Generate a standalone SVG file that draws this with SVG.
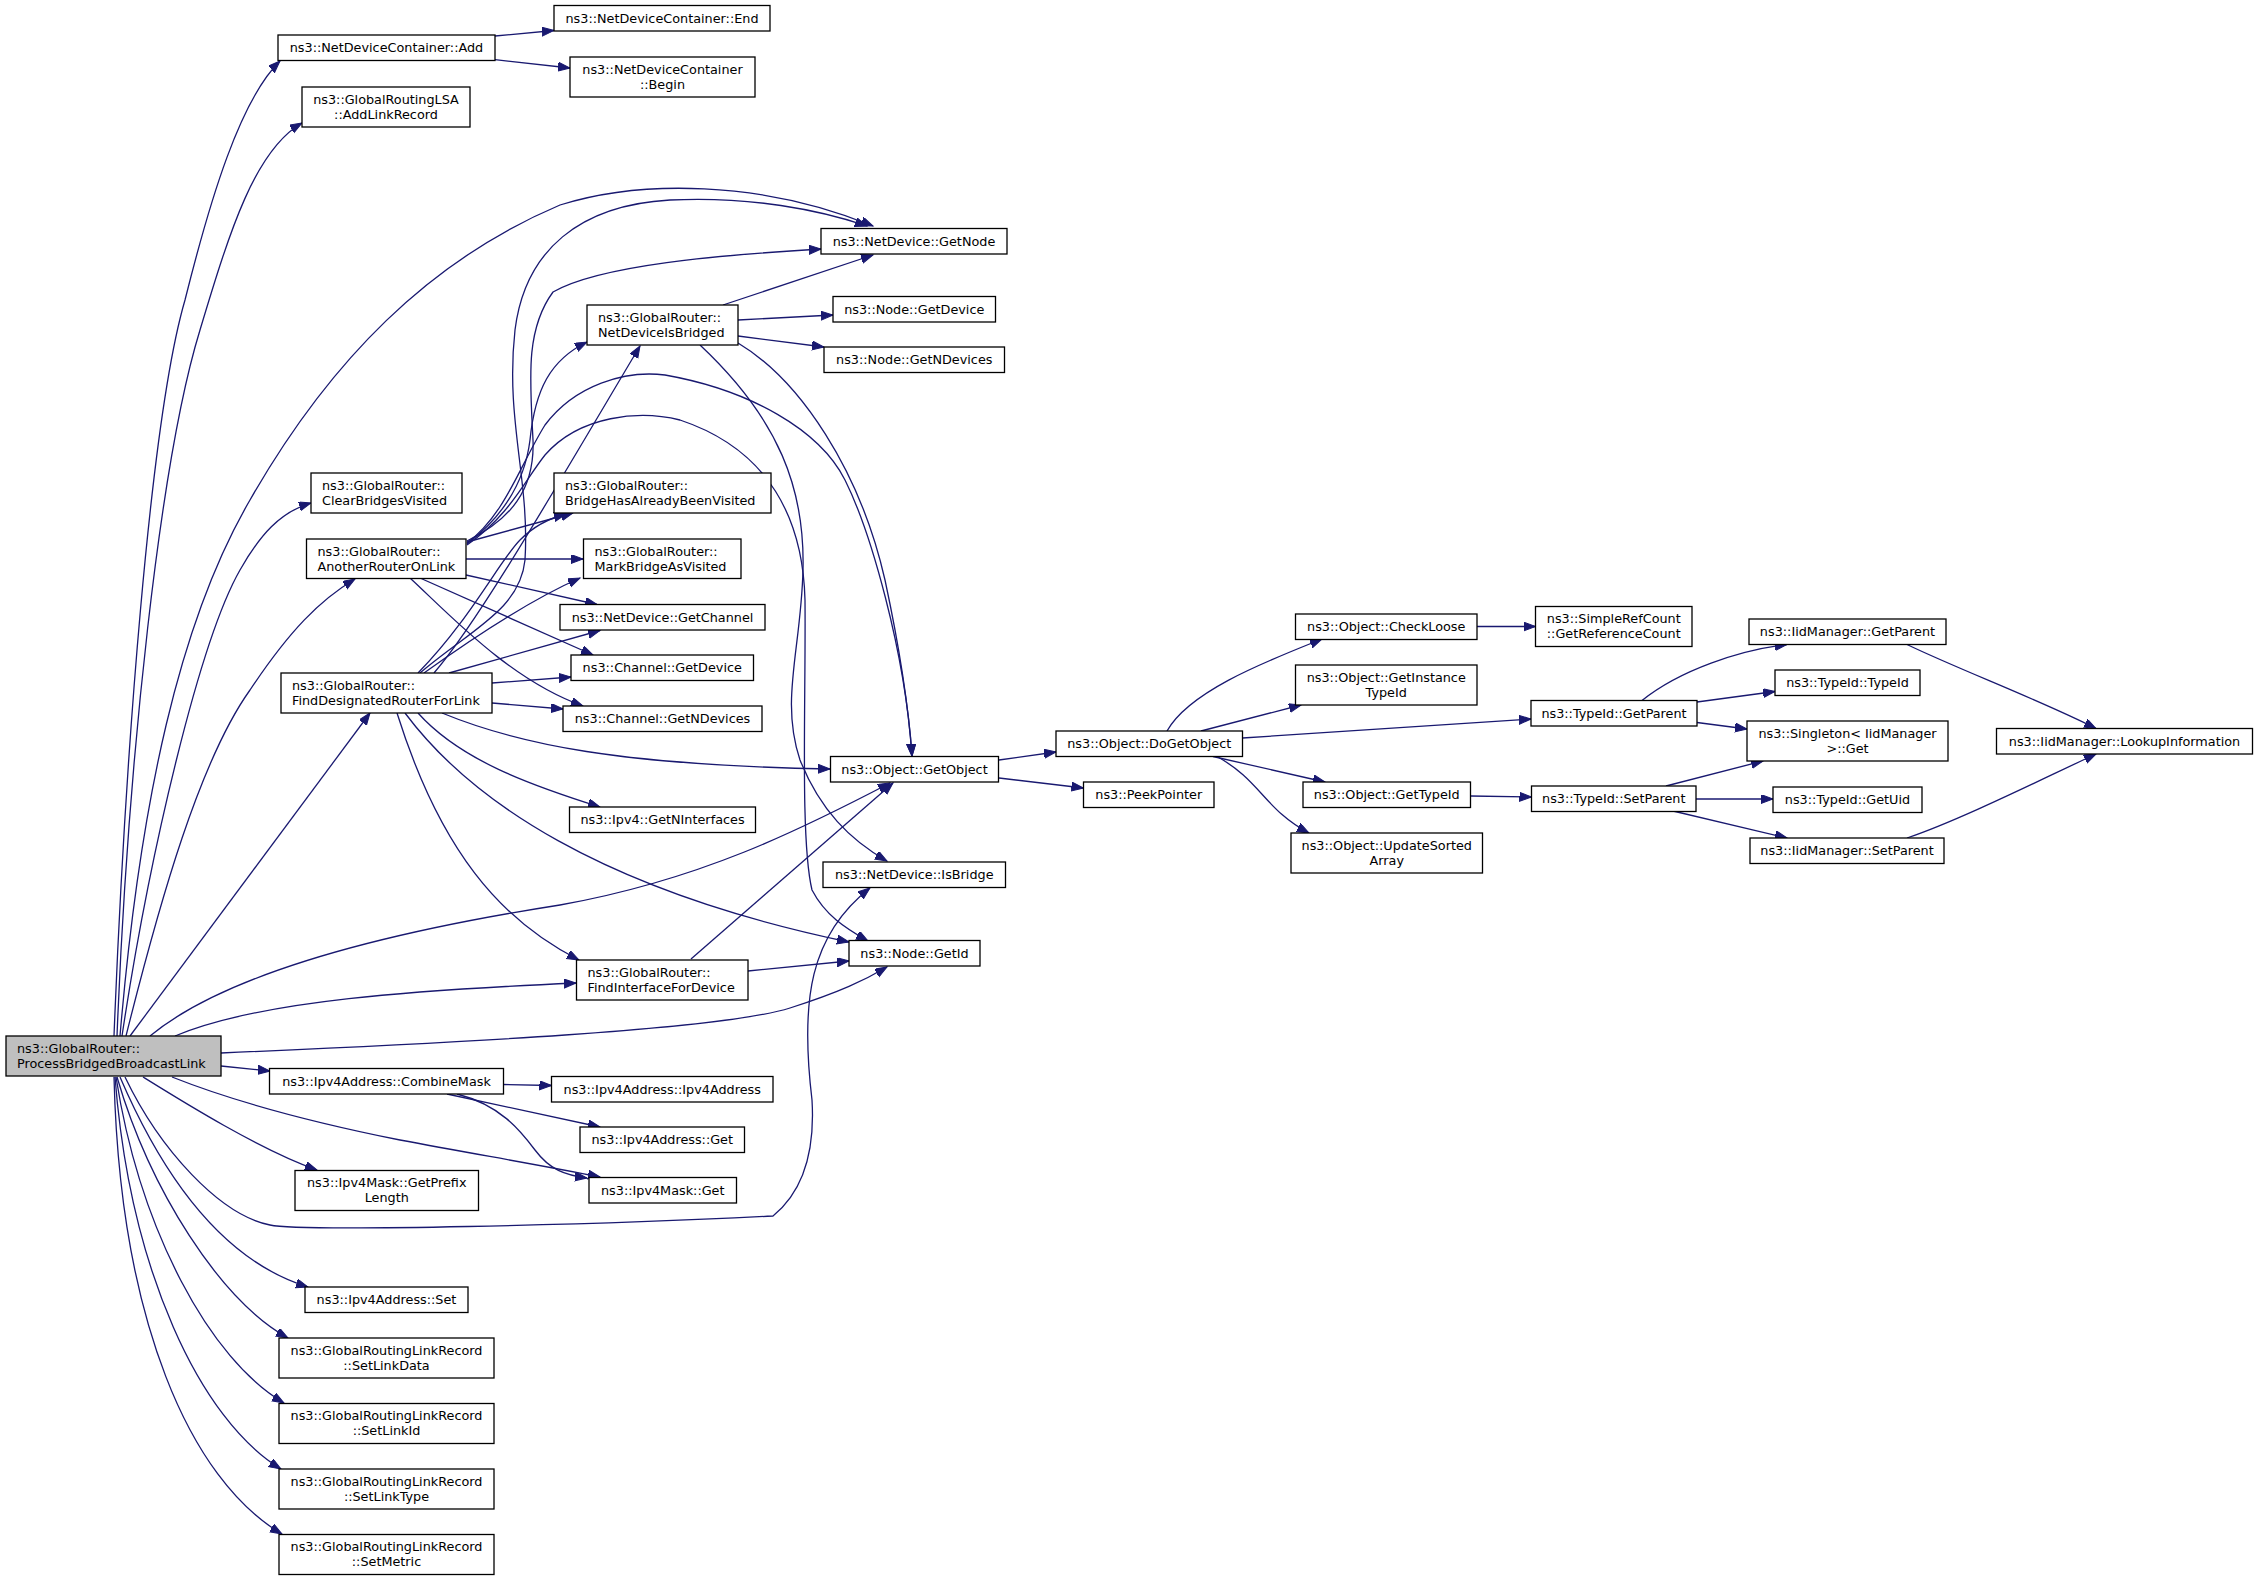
<svg xmlns="http://www.w3.org/2000/svg" width="2259" height="1580" viewBox="0 0 2259 1580">
<defs>
<marker id="ah" markerUnits="userSpaceOnUse" markerWidth="14" markerHeight="10" refX="12" refY="4.5" orient="auto">
<path d="M0,0 L12,4.5 L0,9 z" fill="#191970" stroke="#191970" stroke-width="1"/>
</marker>
</defs>
<style>
.node rect{fill:#ffffff;stroke:#000000;stroke-width:1.3}
.node.root rect{fill:#bfbfbf}
.node text{font-family:"DejaVu Sans","Liberation Sans",sans-serif;font-size:12.8px;fill:#000000}
.c{text-anchor:middle}
.edges path{fill:none;stroke:#191970;stroke-width:1.3;marker-end:url(#ah)}
</style>
<rect width="2259" height="1580" fill="#ffffff"/>
<g class="edges">
<path d="M114,1036 C125,760 150,420 185,300 C210,200 240,100 280,61"/>
<path d="M117,1036 C128,760 160,460 200,330 C230,230 255,150 302,123"/>
<path d="M120,1036 C140,800 180,620 250,500 C330,360 430,260 560,205 C640,180 760,180 873,226"/>
<path d="M122,1036 C150,850 200,640 240,570 C260,535 280,512 311,503"/>
<path d="M126,1036 C160,900 200,760 250,690 C290,630 320,600 355,579"/>
<path d="M130,1036 L370,713"/>
<path d="M150,1036 C230,970 400,930 560,905 C700,880 800,830 890,783"/>
<path d="M175,1036 C260,1000 420,990 576,983"/>
<path d="M221,1053 C450,1043 720,1030 790,1008 C840,992 865,980 887,967"/>
<path d="M125,1077 C160,1150 220,1215 270,1225 C300,1232 600,1225 773,1216 C805,1190 815,1150 812,1100 C800,1000 810,935 870,888"/>
<path d="M221,1066 L270,1071"/>
<path d="M143,1077 C180,1100 260,1150 317,1170"/>
<path d="M172,1077 C230,1100 300,1120 400,1140 C480,1155 540,1165 600,1177"/>
<path d="M120,1077 C160,1170 220,1260 308,1287"/>
<path d="M117,1077 C150,1190 220,1300 288,1338"/>
<path d="M116,1077 C140,1230 210,1360 284,1403"/>
<path d="M115,1077 C130,1270 200,1420 281,1469"/>
<path d="M114,1077 C120,1320 190,1480 282,1534"/>
<path d="M495,36 L554,30.5"/>
<path d="M495,59.6 L570,68"/>
<path d="M723,305 L873,255"/>
<path d="M738,320 L833,315"/>
<path d="M738,336 L824,347"/>
<path d="M700,345 C780,420 805,490 803,570 C801,650 780,700 800,760 C820,810 850,840 887,861"/>
<path d="M738,343 C800,380 860,470 885,580 C900,650 908,700 912,756"/>
<path d="M467,543 C505,515 520,465 545,425 C575,385 625,370 665,375 C750,390 820,430 845,480 C870,530 905,650 912,756"/>
<path d="M467,545 C510,515 525,480 545,455 C580,415 640,410 680,420 C770,450 803,520 805,600 C806,700 800,840 812,890 C825,915 845,928 868,941"/>
<path d="M467,541 C510,520 535,490 533,440 C530,380 525,330 553,292 C600,265 720,255 821,249"/>
<path d="M420,673 C470,630 520,610 525,560 C530,480 505,420 515,330 C525,250 580,205 670,200 C750,196 820,210 867,226"/>
<path d="M467,544 C505,515 525,480 530,440 C535,390 550,360 587,342"/>
<path d="M434,673 C480,620 560,480 640,346"/>
<path d="M467,542 L573,513"/>
<path d="M418,673 C470,620 500,560 520,540 C535,525 550,518 566,514"/>
<path d="M466,559 L583,559"/>
<path d="M424,673 C470,640 530,600 580,578"/>
<path d="M466,575 L597,604.5"/>
<path d="M449,673 L600,630.5"/>
<path d="M420,578 L593,655"/>
<path d="M410,578 C450,615 510,680 583,706"/>
<path d="M492,683 L571,677"/>
<path d="M492,703 L563,709"/>
<path d="M442,713 C520,745 620,765 830,769"/>
<path d="M418,713 C460,760 530,785 600,807"/>
<path d="M405,713 C470,800 600,890 849,942"/>
<path d="M397,713 C440,850 500,920 579,960"/>
<path d="M691,959 L893,783"/>
<path d="M748,971 L849,961"/>
<path d="M999,760 L1056,752"/>
<path d="M999,778 L1083.5,788"/>
<path d="M1167,731 C1190,690 1270,660 1322,639"/>
<path d="M1201,731 L1301,705"/>
<path d="M1242.5,738 L1531,719"/>
<path d="M1213,756.5 L1325,782"/>
<path d="M1217,756.5 C1260,780 1265,810 1309,833"/>
<path d="M1477,626.5 L1535.5,626.5"/>
<path d="M1470.5,796 L1531.5,797"/>
<path d="M1642,700.5 C1680,670 1740,650 1787,644.5"/>
<path d="M1697,702 L1775,691.5"/>
<path d="M1697,722.5 L1747,729"/>
<path d="M1666,786 L1763,761"/>
<path d="M1696,799 L1773,799"/>
<path d="M1673,811 L1787,838"/>
<path d="M1907,644.5 C1960,670 2040,700 2096,728.5"/>
<path d="M1907,838 C1960,820 2040,780 2096,754"/>
<path d="M503,1084.5 L551.5,1085.5"/>
<path d="M447,1094 L600,1127"/>
<path d="M457,1094 C500,1105 520,1130 535,1150 C550,1170 565,1175 587,1178"/>
</g>
<g id="n_process" class="node root"><rect x="6" y="1036" width="215" height="40"/><text x="17" y="1052.5">ns3::GlobalRouter::</text><text x="17" y="1067.5">ProcessBridgedBroadcastLink</text></g>
<g id="n_add" class="node"><rect x="278" y="35" width="217" height="25.5"/><text class="c" x="386.5" y="52">ns3::NetDeviceContainer::Add</text></g>
<g id="n_end" class="node"><rect x="554" y="5.5" width="216" height="25.5"/><text class="c" x="662" y="22.5">ns3::NetDeviceContainer::End</text></g>
<g id="n_begin" class="node"><rect x="570" y="57" width="185" height="40"/><text class="c" x="662.5" y="73.5">ns3::NetDeviceContainer</text><text class="c" x="662.5" y="88.5">::Begin</text></g>
<g id="n_addlinkrecord" class="node"><rect x="302" y="87" width="168" height="40"/><text class="c" x="386" y="103.5">ns3::GlobalRoutingLSA</text><text class="c" x="386" y="118.5">::AddLinkRecord</text></g>
<g id="n_getnode" class="node"><rect x="821" y="228.5" width="186" height="25.5"/><text class="c" x="914" y="245.5">ns3::NetDevice::GetNode</text></g>
<g id="n_netdeviceisbridged" class="node"><rect x="587" y="305" width="151" height="40"/><text x="598" y="321.5">ns3::GlobalRouter::</text><text x="598" y="336.5">NetDeviceIsBridged</text></g>
<g id="n_node_getdevice" class="node"><rect x="833" y="296.5" width="162.5" height="25.5"/><text class="c" x="914.25" y="313.5">ns3::Node::GetDevice</text></g>
<g id="n_node_getndevices" class="node"><rect x="824" y="347" width="180.5" height="25.5"/><text class="c" x="914.25" y="364">ns3::Node::GetNDevices</text></g>
<g id="n_clearbridges" class="node"><rect x="311" y="473" width="151" height="40"/><text x="322" y="489.5">ns3::GlobalRouter::</text><text x="322" y="504.5">ClearBridgesVisited</text></g>
<g id="n_bridgevisited" class="node"><rect x="554" y="473" width="217" height="40"/><text x="565" y="489.5">ns3::GlobalRouter::</text><text x="565" y="504.5">BridgeHasAlreadyBeenVisited</text></g>
<g id="n_anotherrouter" class="node"><rect x="306.5" y="539" width="159.5" height="39.5"/><text x="317.5" y="555.5">ns3::GlobalRouter::</text><text x="317.5" y="570.5">AnotherRouterOnLink</text></g>
<g id="n_markbridge" class="node"><rect x="583.5" y="539" width="157.5" height="39.5"/><text x="594.5" y="555.5">ns3::GlobalRouter::</text><text x="594.5" y="570.5">MarkBridgeAsVisited</text></g>
<g id="n_getchannel" class="node"><rect x="560" y="604.5" width="205" height="25.5"/><text class="c" x="662.5" y="621.5">ns3::NetDevice::GetChannel</text></g>
<g id="n_channel_getdevice" class="node"><rect x="571" y="655" width="182.5" height="25.5"/><text class="c" x="662.25" y="672">ns3::Channel::GetDevice</text></g>
<g id="n_channel_getndevices" class="node"><rect x="563" y="706" width="199" height="25.5"/><text class="c" x="662.5" y="723">ns3::Channel::GetNDevices</text></g>
<g id="n_finddr" class="node"><rect x="281" y="673" width="211" height="40"/><text x="292" y="689.5">ns3::GlobalRouter::</text><text x="292" y="704.5">FindDesignatedRouterForLink</text></g>
<g id="n_getobject" class="node"><rect x="830.5" y="756.5" width="168" height="25.5"/><text class="c" x="914.5" y="773.5">ns3::Object::GetObject</text></g>
<g id="n_getninterfaces" class="node"><rect x="569.5" y="807" width="186" height="25.5"/><text class="c" x="662.5" y="824">ns3::Ipv4::GetNInterfaces</text></g>
<g id="n_isbridge" class="node"><rect x="823" y="862" width="182.5" height="25.5"/><text class="c" x="914.25" y="879">ns3::NetDevice::IsBridge</text></g>
<g id="n_getid" class="node"><rect x="849" y="940.5" width="131" height="25.5"/><text class="c" x="914.5" y="957.5">ns3::Node::GetId</text></g>
<g id="n_findinterface" class="node"><rect x="576.5" y="960" width="171.5" height="40"/><text x="587.5" y="976.5">ns3::GlobalRouter::</text><text x="587.5" y="991.5">FindInterfaceForDevice</text></g>
<g id="n_combinemask" class="node"><rect x="269.5" y="1068.5" width="234" height="25.5"/><text class="c" x="386.5" y="1085.5">ns3::Ipv4Address::CombineMask</text></g>
<g id="n_ipv4address" class="node"><rect x="551.5" y="1076.5" width="221.5" height="25.5"/><text class="c" x="662.25" y="1093.5">ns3::Ipv4Address::Ipv4Address</text></g>
<g id="n_ipv4address_get" class="node"><rect x="580" y="1127" width="164.5" height="25.5"/><text class="c" x="662.25" y="1144">ns3::Ipv4Address::Get</text></g>
<g id="n_getprefixlength" class="node"><rect x="295" y="1170.5" width="183.5" height="40"/><text class="c" x="386.75" y="1187">ns3::Ipv4Mask::GetPrefix</text><text class="c" x="386.75" y="1202">Length</text></g>
<g id="n_ipv4mask_get" class="node"><rect x="589" y="1177.5" width="147.5" height="25.5"/><text class="c" x="662.75" y="1194.5">ns3::Ipv4Mask::Get</text></g>
<g id="n_ipv4address_set" class="node"><rect x="305" y="1287" width="163" height="25.5"/><text class="c" x="386.5" y="1304">ns3::Ipv4Address::Set</text></g>
<g id="n_setlinkdata" class="node"><rect x="279" y="1338" width="215" height="40"/><text class="c" x="386.5" y="1354.5">ns3::GlobalRoutingLinkRecord</text><text class="c" x="386.5" y="1369.5">::SetLinkData</text></g>
<g id="n_setlinkid" class="node"><rect x="279" y="1403.5" width="215" height="40"/><text class="c" x="386.5" y="1420">ns3::GlobalRoutingLinkRecord</text><text class="c" x="386.5" y="1435">::SetLinkId</text></g>
<g id="n_setlinktype" class="node"><rect x="279" y="1469" width="215" height="40"/><text class="c" x="386.5" y="1485.5">ns3::GlobalRoutingLinkRecord</text><text class="c" x="386.5" y="1500.5">::SetLinkType</text></g>
<g id="n_setmetric" class="node"><rect x="279" y="1534.5" width="215" height="40"/><text class="c" x="386.5" y="1551">ns3::GlobalRoutingLinkRecord</text><text class="c" x="386.5" y="1566">::SetMetric</text></g>
<g id="n_dogetobject" class="node"><rect x="1056" y="731" width="186.5" height="25.5"/><text class="c" x="1149.25" y="748">ns3::Object::DoGetObject</text></g>
<g id="n_peekpointer" class="node"><rect x="1083.5" y="782" width="130.5" height="25.5"/><text class="c" x="1148.75" y="799">ns3::PeekPointer</text></g>
<g id="n_checkloose" class="node"><rect x="1295.5" y="614" width="181.5" height="25.5"/><text class="c" x="1386.25" y="631">ns3::Object::CheckLoose</text></g>
<g id="n_getinstancetypeid" class="node"><rect x="1295.5" y="665" width="181.5" height="40"/><text class="c" x="1386.25" y="681.5">ns3::Object::GetInstance</text><text class="c" x="1386.25" y="696.5">TypeId</text></g>
<g id="n_object_gettypeid" class="node"><rect x="1303" y="782" width="167.5" height="25.5"/><text class="c" x="1386.75" y="799">ns3::Object::GetTypeId</text></g>
<g id="n_updatesortedarray" class="node"><rect x="1291" y="833" width="191.5" height="40"/><text class="c" x="1386.75" y="849.5">ns3::Object::UpdateSorted</text><text class="c" x="1386.75" y="864.5">Array</text></g>
<g id="n_getreferencecount" class="node"><rect x="1535.5" y="606.5" width="156.5" height="40"/><text class="c" x="1613.75" y="623">ns3::SimpleRefCount</text><text class="c" x="1613.75" y="638">::GetReferenceCount</text></g>
<g id="n_typeid_getparent" class="node"><rect x="1531" y="700.5" width="166" height="25.5"/><text class="c" x="1614" y="717.5">ns3::TypeId::GetParent</text></g>
<g id="n_typeid_setparent" class="node"><rect x="1531.5" y="786" width="164.5" height="25.5"/><text class="c" x="1613.75" y="803">ns3::TypeId::SetParent</text></g>
<g id="n_iid_getparent" class="node"><rect x="1749" y="619" width="197" height="25.5"/><text class="c" x="1847.5" y="636">ns3::IidManager::GetParent</text></g>
<g id="n_typeid_typeid" class="node"><rect x="1775" y="670" width="145" height="25.5"/><text class="c" x="1847.5" y="687">ns3::TypeId::TypeId</text></g>
<g id="n_singleton_get" class="node"><rect x="1747" y="721" width="201" height="40"/><text class="c" x="1847.5" y="737.5">ns3::Singleton&lt; IidManager</text><text class="c" x="1847.5" y="752.5">&gt;::Get</text></g>
<g id="n_typeid_getuid" class="node"><rect x="1773" y="787" width="149" height="25.5"/><text class="c" x="1847.5" y="804">ns3::TypeId::GetUid</text></g>
<g id="n_iid_setparent" class="node"><rect x="1750" y="838" width="194" height="25.5"/><text class="c" x="1847" y="855">ns3::IidManager::SetParent</text></g>
<g id="n_lookupinformation" class="node"><rect x="1996.5" y="728.5" width="256" height="25.5"/><text class="c" x="2124.5" y="745.5">ns3::IidManager::LookupInformation</text></g>
</svg>
